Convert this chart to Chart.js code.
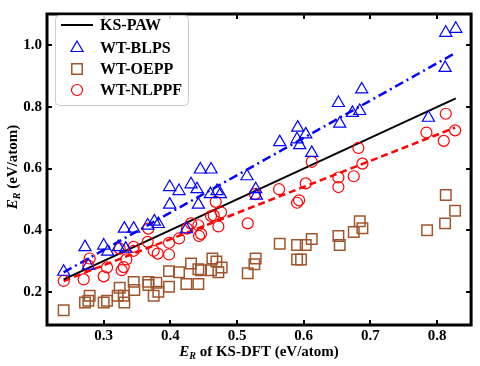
<!DOCTYPE html>
<html>
<head>
<meta charset="utf-8">
<script src="https://cdn.jsdelivr.net/npm/chart.js@4"></script>
<style>
  html, body { margin: 0; padding: 0; background: #fff; }
  #wrap { width: 480px; height: 366px; }
</style>
</head>
<body>
<div id="wrap"><canvas id="grafico" width="480" height="366"></canvas></div>
<script>
// valores (eV/atom)
const blpsX = [0.240, 0.272, 0.277, 0.300, 0.306, 0.322, 0.331, 0.345, 0.333, 0.366, 0.376, 0.382, 0.399, 0.413, 0.431, 0.440, 0.460, 0.470, 0.475, 0.399, 0.442, 0.445, 0.461, 0.424, 0.515, 0.528, 0.529, 0.564, 0.590, 0.591, 0.594, 0.603, 0.612, 0.652, 0.654, 0.673, 0.684, 0.687, 0.787, 0.812, 0.813, 0.828]
const blpsY = [0.265, 0.345, 0.285, 0.350, 0.330, 0.345, 0.405, 0.405, 0.340, 0.415, 0.428, 0.420, 0.540, 0.527, 0.549, 0.533, 0.517, 0.527, 0.517, 0.483, 0.483, 0.597, 0.597, 0.403, 0.575, 0.533, 0.512, 0.686, 0.695, 0.733, 0.676, 0.711, 0.651, 0.813, 0.746, 0.781, 0.787, 0.857, 0.765, 0.927, 1.041, 1.054]

const oeppX = [0.240, 0.272, 0.277, 0.279, 0.300, 0.305, 0.321, 0.324, 0.330, 0.331, 0.345, 0.346, 0.367, 0.367, 0.375, 0.379, 0.382, 0.398, 0.398, 0.413, 0.424, 0.431, 0.442, 0.442, 0.446, 0.461, 0.463, 0.469, 0.472, 0.477, 0.516, 0.528, 0.526, 0.564, 0.590, 0.603, 0.612, 0.590, 0.596, 0.652, 0.654, 0.675, 0.684, 0.688, 0.785, 0.812, 0.813, 0.827]
const oeppY = [0.140, 0.165, 0.171, 0.187, 0.165, 0.171, 0.187, 0.213, 0.187, 0.165, 0.232, 0.206, 0.232, 0.222, 0.187, 0.229, 0.200, 0.267, 0.216, 0.263, 0.225, 0.292, 0.225, 0.273, 0.270, 0.270, 0.308, 0.298, 0.263, 0.279, 0.260, 0.308, 0.289, 0.356, 0.352, 0.352, 0.371, 0.305, 0.305, 0.381, 0.352, 0.394, 0.429, 0.406, 0.400, 0.422, 0.514, 0.463]

const nlppfX = [0.240, 0.270, 0.277, 0.279, 0.300, 0.305, 0.324, 0.327, 0.330, 0.334, 0.345, 0.345, 0.366, 0.367, 0.375, 0.381, 0.398, 0.398, 0.413, 0.425, 0.431, 0.442, 0.443, 0.446, 0.461, 0.465, 0.468, 0.472, 0.476, 0.516, 0.527, 0.563, 0.590, 0.593, 0.603, 0.612, 0.652, 0.652, 0.675, 0.682, 0.688, 0.784, 0.810, 0.813, 0.827]
const nlppfY = [0.235, 0.240, 0.285, 0.308, 0.250, 0.279, 0.340, 0.270, 0.280, 0.305, 0.346, 0.333, 0.362, 0.405, 0.333, 0.324, 0.359, 0.321, 0.373, 0.405, 0.422, 0.416, 0.381, 0.388, 0.446, 0.448, 0.492, 0.412, 0.458, 0.422, 0.517, 0.533, 0.489, 0.497, 0.552, 0.622, 0.571, 0.540, 0.575, 0.667, 0.616, 0.717, 0.690, 0.778, 0.724]

// retas de ajuste (extremos)
const pawLinhaX = [0.240, 0.828]
const pawLinhaY = [0.240, 0.828]
const blpsLinhaX = [0.240, 0.827]
const blpsLinhaY = [0.263, 0.975]
const nlppfLinhaX = [0.240, 0.827]
const nlppfLinhaY = [0.235, 0.733]

const ticksX = [0.3, 0.4, 0.5, 0.6, 0.7, 0.8]
const ticksY = [0.2, 0.4, 0.6, 0.8, 1.0]

const pares = (xs, ys) => xs.map((x, i) => ({ x: x, y: ys[i] }))
const fonte = 'Liberation Serif, Times New Roman, serif'

const molduraEixos = {
    id: 'molduraEixos',
    afterDatasetsDraw(chart) {
        const ctx = chart.ctx
        const a = chart.chartArea
        const sx = chart.scales.x
        const sy = chart.scales.y
        ctx.save()
        ctx.strokeStyle = '#000'
        // marcas para dentro nos quatro lados
        ctx.lineWidth = 2
        ticksX.forEach(v => {
            let px = Math.round(sx.getPixelForValue(v))
            ctx.beginPath()
            ctx.moveTo(px, a.bottom); ctx.lineTo(px, a.bottom - 5)
            ctx.moveTo(px, a.top); ctx.lineTo(px, a.top + 5)
            ctx.stroke()
        })
        ticksY.forEach(v => {
            let py = Math.round(sy.getPixelForValue(v))
            ctx.beginPath()
            ctx.moveTo(a.left, py); ctx.lineTo(a.left + 5, py)
            ctx.moveTo(a.right, py); ctx.lineTo(a.right - 5, py)
            ctx.stroke()
        })
        ctx.lineWidth = 3
        ctx.strokeRect(a.left, a.top, a.right - a.left, a.bottom - a.top)

        // titulos dos eixos
        ctx.fillStyle = '#000'
        ctx.textBaseline = 'alphabetic'
        const pedacos = (resto) => [
            { t: 'E', f: 'italic bold 15px ' + fonte, dy: 0 },
            { t: 'R', f: 'italic bold 10px ' + fonte, dy: 3 },
            { t: resto, f: 'bold 15px ' + fonte, dy: 0 }
        ]
        const escrever = (partes, cx, cy) => {
            let total = 0
            partes.forEach(p => { ctx.font = p.f; p.w = ctx.measureText(p.t).width; total += p.w })
            let x = cx - total / 2
            partes.forEach(p => { ctx.font = p.f; ctx.fillText(p.t, x, cy + p.dy); x += p.w })
        }
        escrever(pedacos(' of KS-DFT (eV/atom)'), 259, 356)
        ctx.save()
        ctx.translate(17, 167)
        ctx.rotate(-Math.PI / 2)
        escrever(pedacos(' (eV/atom)'), 0, 0)
        ctx.restore()

        // legenda
        const lx = 55, ly = 15, lw = 133, lh = 90
        ctx.fillStyle = 'rgba(255,255,255,0.85)'
        ctx.strokeStyle = '#cccccc'
        ctx.lineWidth = 1
        ctx.beginPath()
        ctx.roundRect(lx + 0.5, ly + 0.5, lw, lh, 4)
        ctx.fill(); ctx.stroke()
        const linhasY = [25, 48, 69, 90]
        const itens = [3, 0, 1, 2]
        itens.forEach((di, k) => {
            const ds = chart.data.datasets[di]
            const yy = linhasY[k]
            if (ds.showLine) {
                ctx.strokeStyle = ds.borderColor
                ctx.lineWidth = ds.borderWidth
                ctx.setLineDash([])
                ctx.beginPath(); ctx.moveTo(61, yy); ctx.lineTo(93, yy); ctx.stroke()
            } else {
                ctx.strokeStyle = ds.borderColor
                ctx.fillStyle = 'rgba(0,0,0,0)'
                ctx.lineWidth = ds.pointBorderWidth
                Chart.helpers.drawPoint(ctx, { pointStyle: ds.pointStyle, radius: ds.pointRadius, rotation: 0, borderWidth: ds.pointBorderWidth }, 77, yy)
            }
            ctx.fillStyle = '#000'
            ctx.font = 'bold 16px ' + fonte
            ctx.textBaseline = 'middle'
            ctx.fillText(ds.label, 100, yy + 1)
        })
        ctx.restore()
    }
}

new Chart(document.getElementById('grafico'), {
    type: 'scatter',
    data: {
        datasets: [
            {
                label: 'WT-BLPS',
                data: pares(blpsX, blpsY),
                pointStyle: 'triangle',
                pointRadius: 7,
                pointBorderWidth: 1.2,
                borderColor: '#0000ff',
                backgroundColor: 'rgba(0,0,0,0)'
            },
            {
                label: 'WT-OEPP',
                data: pares(oeppX, oeppY),
                pointStyle: 'rect',
                pointRadius: 7.4,
                pointBorderWidth: 1.5,
                borderColor: '#a0552d',
                backgroundColor: 'rgba(0,0,0,0)'
            },
            {
                label: 'WT-NLPPF',
                data: pares(nlppfX, nlppfY),
                pointStyle: 'circle',
                pointRadius: 5.5,
                pointBorderWidth: 1.2,
                borderColor: '#ff0000',
                backgroundColor: 'rgba(0,0,0,0)'
            },
            {
                label: 'KS-PAW',
                data: pares(pawLinhaX, pawLinhaY),
                showLine: true,
                pointRadius: 0,
                borderColor: '#000000',
                borderWidth: 2
            },
            {
                label: 'Ajuste BLPS',
                data: pares(blpsLinhaX, blpsLinhaY),
                showLine: true,
                pointRadius: 0,
                borderColor: '#0000ff',
                borderWidth: 2.5,
                borderDash: [9, 4, 2, 4]
            },
            {
                label: 'Ajuste NLPPF',
                data: pares(nlppfLinhaX, nlppfLinhaY),
                showLine: true,
                pointRadius: 0,
                borderColor: '#ff0000',
                borderWidth: 2.5,
                borderDash: [7, 4]
            }
        ]
    },
    options: {
        responsive: false,
        animation: false,
        layout: { padding: { left: 0, right: 7, top: 7, bottom: 0 } },
        plugins: {
            legend: { display: false },
            tooltip: { enabled: false }
        },
        scales: {
            x: {
                type: 'linear',
                min: 0.215,
                max: 0.851,
                afterBuildTicks: s => { s.ticks = ticksX.map(v => ({ value: v })) },
                afterFit: s => { s.height = 41 },
                grid: { display: false, drawTicks: false },
                border: { display: false },
                ticks: {
                    padding: 2,
                    color: '#000',
                    font: { family: fonte, size: 15, weight: 'bold' },
                    callback: v => v.toFixed(1)
                }
            },
            y: {
                type: 'linear',
                min: 0.092,
                max: 1.102,
                afterBuildTicks: s => { s.ticks = ticksY.map(v => ({ value: v })) },
                afterFit: s => { s.width = 47 },
                grid: { display: false, drawTicks: false },
                border: { display: false },
                ticks: {
                    padding: 5,
                    color: '#000',
                    font: { family: fonte, size: 15, weight: 'bold' },
                    callback: v => v.toFixed(1)
                }
            }
        }
    },
    plugins: [molduraEixos]
})
</script>
</body>
</html>
